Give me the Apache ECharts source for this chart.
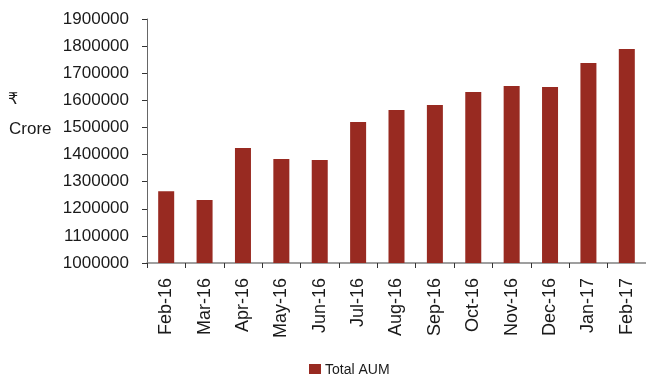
<!DOCTYPE html>
<html>
<head>
<meta charset="utf-8">
<script src="https://cdn.jsdelivr.net/npm/echarts@6/dist/echarts.min.js"></script>
<style>
  html, body { margin: 0; padding: 0; background: #fff; }
  #chart { width: 646px; height: 374px; }
</style>
</head>
<body>
<div id="chart"></div>
<script>
// Monthly total assets under management (₹ crore)
const months = ['Feb-16', 'Mar-16', 'Apr-16', 'May-16', 'Jun-16', 'Jul-16', 'Aug-16',
  'Sep-16', 'Oct-16', 'Nov-16', 'Dec-16', 'Jan-17', 'Feb-17'];
const totalAum = [1265000, 1232000, 1424000, 1384000, 1380000, 1520000, 1564000,
  1583000, 1631000, 1653000, 1649000, 1738000, 1789000];
const seriesName = 'Total AUM';
const unitSymbol = '₹';
const unitWord = 'Crore';

const FONT = "'Liberation Sans', Arial, sans-serif";

const chart = echarts.init(document.getElementById('chart'), null, { renderer: 'canvas' });
chart.setOption({
  animation: false,
  backgroundColor: '#ffffff',
  grid: { left: 147, top: 19, height: 244, width: 502, containLabel: false },
  legend: {
    left: 304, top: 358,
    itemWidth: 12, itemHeight: 12, itemGap: 10,
    icon: 'rect',
    textStyle: { fontFamily: FONT, fontSize: 14, color: '#1a1a1a', padding: [0, 0, 0, -1] },
    data: [seriesName]
  },
  graphic: [
    { type: 'text', left: 8, top: 92, style: { text: unitSymbol, font: "16px 'DejaVu Sans', sans-serif", fill: '#1a1a1a' } },
    { type: 'text', left: 9, top: 121, style: { text: unitWord, font: "17px " + FONT, fill: '#1a1a1a' } }
  ],
  xAxis: {
    type: 'category',
    data: months,
    axisLine: { lineStyle: { color: '#808080', width: 1.5 } },
    axisTick: { show: true, length: 5, lineStyle: { color: '#333', width: 1 } },
    axisLabel: { rotate: 90, margin: 15, fontFamily: FONT, fontSize: 18, color: '#1a1a1a' }
  },
  yAxis: {
    type: 'value',
    min: 1000000, max: 1900000, interval: 100000,
    axisLine: { show: true, lineStyle: { color: '#666', width: 1 } },
    axisTick: { show: true, length: 5, lineStyle: { color: '#333' } },
    splitLine: { show: false },
    axisLabel: {
      margin: 18, fontFamily: FONT, fontSize: 17, color: '#1a1a1a',
      formatter: (v) => String(v)
    }
  },
  series: [{
    name: seriesName,
    type: 'bar',
    data: totalAum,
    barWidth: 16,
    itemStyle: { color: '#982a21' }
  }]
});
</script>
</body>
</html>
